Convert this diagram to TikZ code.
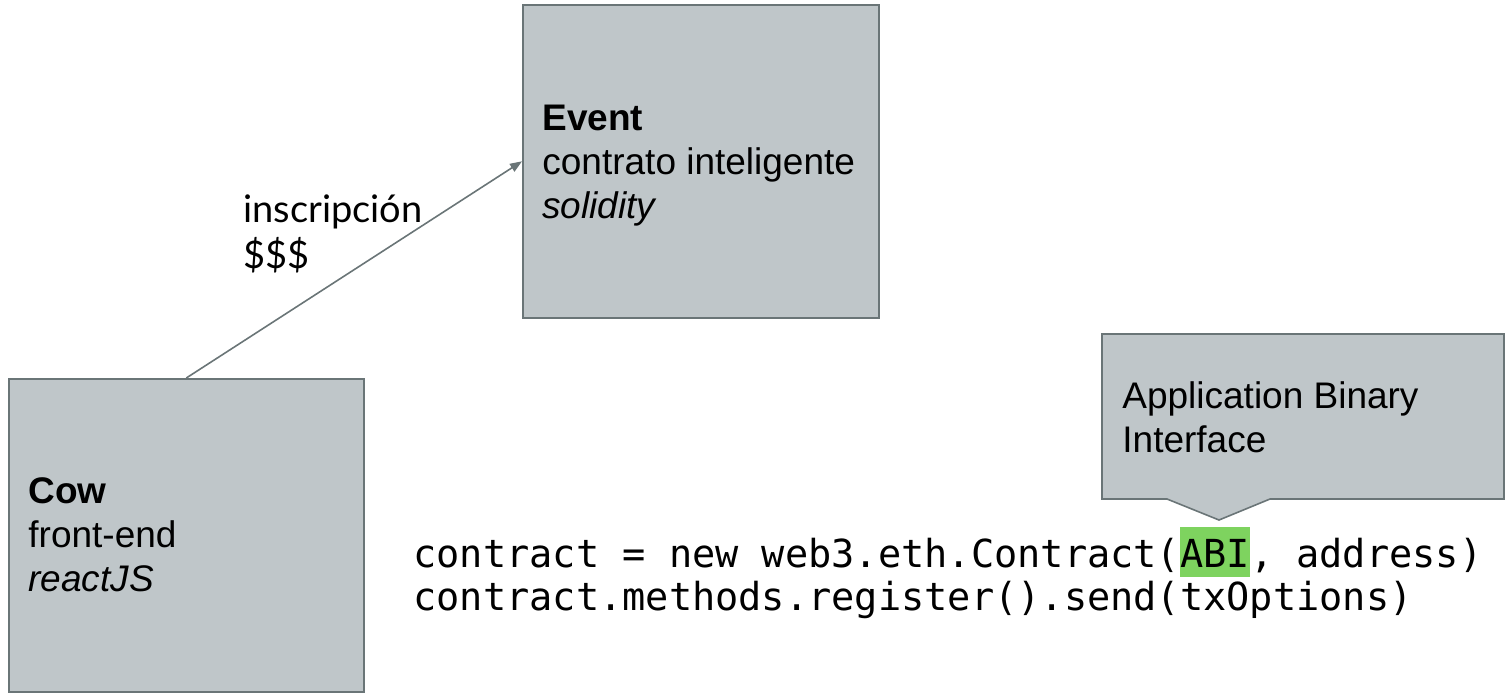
\documentclass[tikz,border=0pt]{standalone}
\usepackage{fontspec}
\setmainfont{Liberation Sans}
\setmonofont{DejaVu Sans Mono}
\newfontfamily\latofont{Lato}
\usetikzlibrary{arrows.meta}
\definecolor{boxfill}{RGB}{191,198,201}
\definecolor{boxline}{RGB}{106,117,119}
\definecolor{abigreen}{RGB}{126,211,95}
\begin{document}
\begin{tikzpicture}[x=0.5pt,y=-0.5pt,
  box/.style={draw=boxline, fill=boxfill, line width=0.8pt, inner sep=0pt, anchor=north west},
  lbl/.style={anchor=base west, inner sep=0pt, align=left, font=\fontsize{18.5}{22}\selectfont},
  conn/.style={draw=boxline, line width=0.8pt, -{Triangle[length=6pt,width=4.5pt]}},
  codetxt/.style={anchor=base west, inner sep=0pt, align=left, font=\ttfamily\fontsize{19.3}{21.5}\selectfont}]
\useasboundingbox (0,0) rectangle (1509,692);
% boxes
\node[box, minimum width=178pt, minimum height=156.5pt] (event) at (522,4) {};
\node[box, minimum width=177.5pt, minimum height=156.5pt] (cow) at (8,378) {};
% callout
\coordinate (cotip) at (1219,520);
\draw[draw=boxline, fill=boxfill, line width=0.8pt]
  (1102,334) -- (1504,334) -- (1504,499) -- (1270,499) -- (cotip) -- (1167,499) -- (1102,499) -- cycle;
% texts (anchored at the baseline of the last line)
\node[lbl] (eventtxt) at (542,218) {\textbf{Event}\\contrato inteligente\\\textit{solidity}};
\node[lbl] (cowtxt) at (28,591) {\textbf{Cow}\\front-end\\\textit{reactJS}};
\node[lbl] (abitxt) at (1122,452) {Application Binary\\Interface};
\node[lbl, font=\latofont\fontsize{19}{23}\selectfont] (ins) at (243,268) {inscripción\\\$\$\$};
% connector
\draw[conn] (cow.north) -- (event.west);
% code
\setlength{\fboxsep}{0pt}
\node[codetxt] (code) at (413,610) {contract = new web3.eth.Contract(\colorbox{abigreen}{\rule[-5pt]{0pt}{25pt}ABI}, address)\\contract.methods.register().send(txOptions)};
\end{tikzpicture}
\end{document}
